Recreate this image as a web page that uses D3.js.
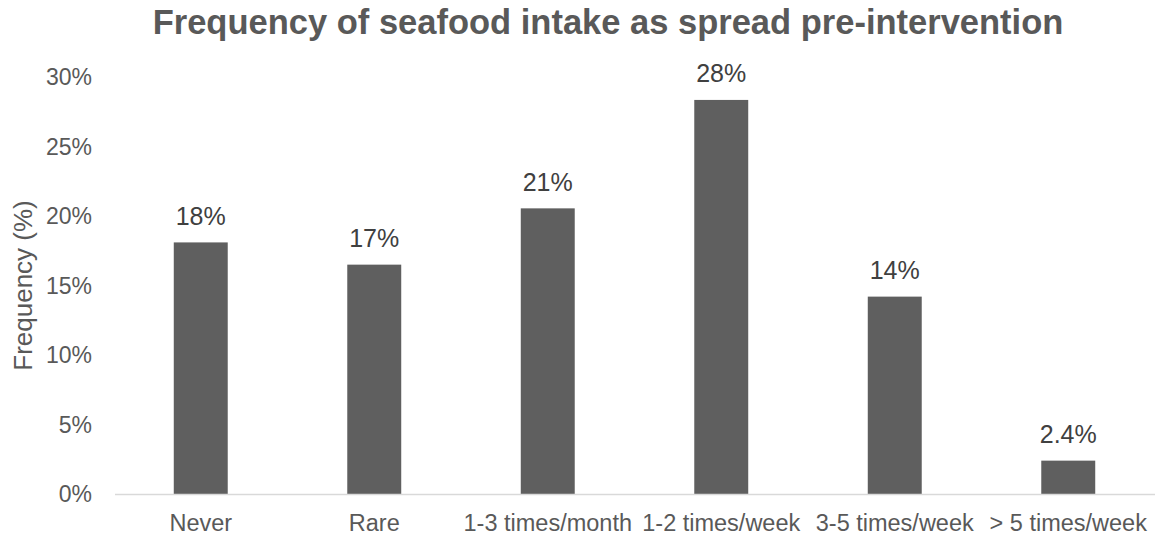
<!doctype html>
<html>
<head>
<meta charset="utf-8"/>
<script src="https://d3js.org/d3.v7.min.js"></script>
<style>
  body { margin: 0; background: #fff; }
  text { font-family: "Liberation Sans", Arial, sans-serif; }
</style>
</head>
<body>
<script>
// categories and values (percent)
const categories = ['Never', 'Rare', '1-3 times/month', '1-2 times/week', '3-5 times/week', '> 5 times/week'];
const values = [18.1, 16.5, 20.55, 28.35, 14.2, 2.4];
const labels = ['18%', '17%', '21%', '28%', '14%', '2.4%'];
const yTicks = [0, 5, 10, 15, 20, 25, 30];

const W = 1156, H = 535;
const margin = { left: 114, right: 1, top: 77, bottom: 41 };

let svg = d3.select('body').append('svg').attr('width', W).attr('height', H);

var x = d3.scaleBand().domain(categories).range([margin.left, W - margin.right]).paddingInner(0.689).paddingOuter(0.3445);
var y = d3.scaleLinear().domain([0, 30]).range([H - margin.bottom, margin.top]);

// title
svg.append('text')
   .attr('x', 608).attr('y', 34)
   .attr('text-anchor', 'middle')
   .style('font-size', '34.5px').style('font-weight', 'bold').style('fill', '#595959')
   .text('Frequency of seafood intake as spread pre-intervention');

// y tick labels
svg.selectAll('.ytick')
   .data(yTicks)
   .enter().append('text')
    .attr('class', 'ytick')
    .attr('x', 92)
    .attr('y', d => y(d))
    .attr('dy', '0.35em')
    .attr('text-anchor', 'end')
    .style('font-size', '23px').style('fill', '#595959')
    .text(d => d + '%');

// y axis title
svg.append('text')
   .attr('transform', `translate(32,${285.5}) rotate(-90)`)
   .attr('text-anchor', 'middle')
   .style('font-size', '26px').style('fill', '#595959')
   .text('Frequency (%)');

// bars
svg.selectAll('.bar')
   .data(values)
   .enter().append('rect')
    .attr('class', 'bar')
    .attr('x', (d, i) => x(categories[i]))
    .attr('width', x.bandwidth())
    .attr('y', d => y(d))
    .attr('height', d => y(0) - y(d))
    .style('fill', '#5f5f5f');

// baseline
svg.append('line')
   .attr('x1', margin.left + 1).attr('x2', W - margin.right)
   .attr('y1', y(0) + 0.5).attr('y2', y(0) + 0.5)
   .style('stroke', '#d9d9d9').style('stroke-width', 1.5);

// data labels
svg.selectAll('.dlabel')
   .data(values)
   .enter().append('text')
    .attr('class', 'dlabel')
    .attr('x', (d, i) => x(categories[i]) + x.bandwidth() / 2)
    .attr('y', d => y(d) - 17.5)
    .attr('text-anchor', 'middle')
    .style('font-size', '25px').style('fill', '#404040')
    .text((d, i) => labels[i]);

// x labels
svg.selectAll('.xlabel')
   .data(categories)
   .enter().append('text')
    .attr('class', 'xlabel')
    .attr('x', d => x(d) + x.bandwidth() / 2)
    .attr('y', 531)
    .attr('text-anchor', 'middle')
    .style('font-size', '23.5px').style('fill', '#595959')
    .text(d => d);
</script>
</body>
</html>
